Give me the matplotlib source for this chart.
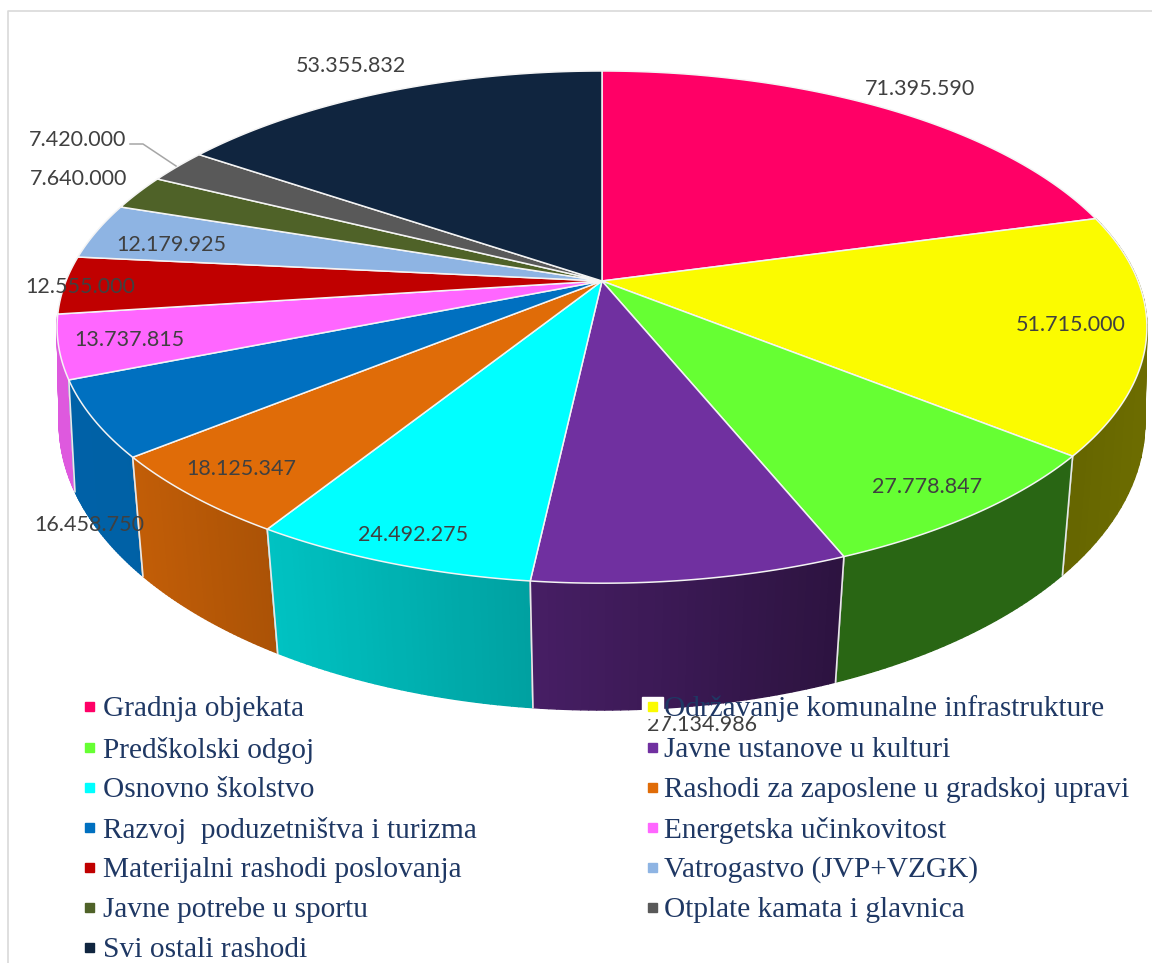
import numpy as np
import matplotlib
matplotlib.use('Agg')
import matplotlib.pyplot as plt
from matplotlib.collections import PolyCollection
from matplotlib.patches import Polygon, Rectangle

# podaci
categories = ['Gradnja objekata', 'Održavanje komunalne infrastrukture',
              'Predškolski odgoj', 'Javne ustanove u kulturi',
              'Osnovno školstvo', 'Rashodi za zaposlene u gradskoj upravi',
              'Razvoj  poduzetništva i turizma', 'Energetska učinkovitost',
              'Materijalni rashodi poslovanja', 'Vatrogastvo (JVP+VZGK)',
              'Javne potrebe u sportu', 'Otplate kamata i glavnica',
              'Svi ostali rashodi']
values = [71395590, 51715000, 27778847, 27134986, 24492275, 18125347,
          16458750, 13737815, 12555000, 12179925, 7640000, 7420000, 53355832]
value_labels = ['71.395.590', '51.715.000', '27.778.847', '27.134.986',
                '24.492.275', '18.125.347', '16.458.750', '13.737.815',
                '12.555.000', '12.179.925', '7.640.000', '7.420.000',
                '53.355.832']
colors = ['#ff0066', '#fbfb00', '#66ff33', '#7030a0', '#00ffff', '#e06c08',
          '#0070c0', '#ff66ff', '#c00000', '#8eb4e3', '#4f6228', '#595959',
          '#10253f']

# polozaj tekstova (px)
label_pos = [(920, 89), (1071, 325), (927, 487), (702, 725), (413, 535),
             (241, 469), (89, 525), (129, 340), (80, 287), (171, 245),
             (79, 179), (78, 140), (351, 66)]
legend_y = [706, 747, 787, 827, 867, 907, 947]

CX = 602
TOP = dict(a=536, b=247.8, k=0.18, y0=281)     # gornja ploha
BOT = dict(a=537, b=281, k=0.146, y0=381)      # donji rub


def project(theta, a, b, k, y0):
    """kut (od vrha, u smjeru kazaljke) -> px, krug u perspektivi"""
    sx, cy = np.sin(theta), np.cos(theta)
    d = 1 + k * cy
    return CX + a * sx / d, y0 - b * cy / d


def shade(x):
    return np.interp(x, [70, 140, 270, 530, 840, 1063, 1140],
                     [.87, .86, .76, .63, .40, .40, .43])


fig = plt.figure(figsize=(11.52, 9.63), dpi=100)
ax = fig.add_axes([0, 0, 1, 1])
ax.set_xlim(0, 1152)
ax.set_ylim(963, 0)
ax.axis('off')

# okvir
ax.plot([8, 8, 1152], [963, 11, 11], color='#d9d9d9', lw=1.2)

edges = 2 * np.pi * np.concatenate([[0], np.cumsum(values)]) / np.sum(values)

# bocne stijenke, prvo one straga
order = sorted(range(len(values)),
               key=lambda i: -abs((edges[i] + edges[i + 1]) / 2 - np.pi))
z = 1
for i in order:
    mid = (edges[i] + edges[i + 1]) / 2
    if np.cos(mid) > -0.1:  # straznje se ne vide
        continue
    th = np.linspace(edges[i], edges[i + 1], 40)
    tx, ty = project(th, **TOP)
    bx, by = project(th, **BOT)
    quads, cols = [], []
    base = np.array(matplotlib.colors.to_rgb(colors[i]))
    for j in range(len(th) - 1):
        quads.append([(tx[j], ty[j]), (tx[j + 1], ty[j + 1]),
                      (bx[j + 1], by[j + 1]), (bx[j], by[j])])
        cols.append(base * shade((tx[j] + tx[j + 1]) / 2))
    ax.add_collection(PolyCollection(quads, facecolors=cols, edgecolors=cols,
                                     linewidths=1.0, zorder=z))
    for e in (edges[i], edges[i + 1]):
        if np.cos(e) > -0.3:
            continue
        x0, y0 = project(e, **TOP)
        x1, y1 = project(e, **BOT)
        ax.plot([x0, x1], [y0, y1], color='#e8e8e8', lw=1.2, zorder=z + 0.5)
    z += 1

# gornja ploha
for i in range(len(values)):
    th = np.linspace(edges[i], edges[i + 1], 120)
    tx, ty = project(th, **TOP)
    pts = np.column_stack([np.r_[CX, tx], np.r_[TOP['y0'], ty]])
    ax.add_patch(Polygon(pts, closed=True, facecolor=colors[i],
                         edgecolor='#f4f4f4', lw=1.1, zorder=30))

# oznake vrijednosti
for txt, (lx, ly) in zip(value_labels, label_pos):
    ax.text(lx, ly, txt, ha='center', va='center', fontsize=15.5,
            family='Lato', color='#404040', zorder=40)
ax.plot([130, 143, 176], [144, 144, 166], color='#a6a6a6', lw=1.1, zorder=40)

# legenda
ax.add_patch(Rectangle((642, 697), 21, 21, color='white', zorder=41))
for i, name in enumerate(categories):
    row = legend_y[i // 2]
    mx, tx = (85, 103) if i % 2 == 0 else (648, 664)
    ax.add_patch(Rectangle((mx, row - 4), 9, 9, color=colors[i], zorder=42))
    ax.text(tx, row + 3, name, ha='left', va='center', fontsize=21.2,
            family='Liberation Serif', color='#1f3864', zorder=43)

fig.savefig('out.png', dpi=100)
